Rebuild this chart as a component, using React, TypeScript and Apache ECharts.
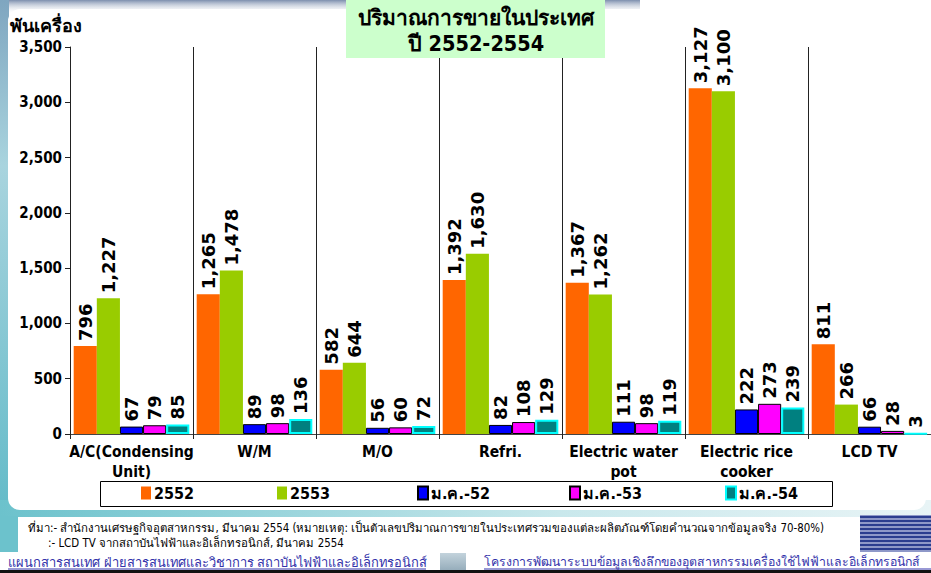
import React, { useEffect, useRef } from "react";
import * as echarts from "echarts";

const categories = [
  "A/C(Condensing\nUnit)",
  "W/M",
  "M/O",
  "Refri.",
  "Electric water\npot",
  "Electric rice\ncooker",
  "LCD TV",
];
const seriesNames = ["2552", "2553", "ม.ค.-52", "ม.ค.-53", "ม.ค.-54"];
const values2552 = [796, 1265, 582, 1392, 1367, 3127, 811];
const values2553 = [1227, 1478, 644, 1630, 1262, 3100, 266];
const valuesJan52 = [67, 89, 56, 82, 111, 222, 66];
const valuesJan53 = [79, 98, 60, 108, 98, 273, 28];
const valuesJan54 = [85, 136, 72, 129, 119, 239, 3];
const yTicks = { min: 0, max: 3500, interval: 500 };

const titleLines = ["ปริมาณการขายในประเทศ", "ปี 2552-2554"];
const yUnit = "พันเครื่อง";
const noteLines = [
  "ที่มา:- สำนักงานเศรษฐกิจอุตสาหกรรม, มีนาคม 2554 (หมายเหตุ: เป็นตัวเลขปริมาณการขายในประเทศรวมของแต่ละผลิตภัณฑ์โดยคำนวณจากข้อมูลจริง 70-80%)",
  ":- LCD TV จากสถาบันไฟฟ้าและอิเล็กทรอนิกส์, มีนาคม 2554",
];
const footerLeft = "แผนกสารสนเทศ ฝ่ายสารสนเทศและวิชาการ สถาบันไฟฟ้าและอิเล็กทรอนิกส์";
const footerRight = "โครงการพัฒนาระบบข้อมูลเชิงลึกของอุตสาหกรรมเครื่องใช้ไฟฟ้าและอิเล็กทรอนิกส์";

const THAI = "Tahoma, 'DejaVu Sans Condensed', 'DejaVu Sans', sans-serif";
const COND = "'DejaVu Sans Condensed', 'DejaVu Sans', sans-serif";
const VERD = "'DejaVu Sans', Verdana, sans-serif";

export default function App() {
  const ref = useRef<HTMLDivElement>(null);
  useEffect(() => {
    document.body.style.margin = "0";
    const chart = echarts.init(ref.current!, null, { renderer: "svg" });
    const fmt = (v: number) => Number(v).toLocaleString("en-US");
    const colors = ["#FF6600", "#99CC00", "#0000FF", "#FF00FF", "#008080"];
    const borders = [
      { borderWidth: 0 },
      { borderWidth: 0 },
      { borderColor: "#000", borderWidth: 1 },
      { borderColor: "#000", borderWidth: 1 },
      { borderColor: "#00FFFF", borderWidth: 2 },
    ];
    const data = [values2552, values2553, valuesJan52, valuesJan53, valuesJan54];
    const legendLefts = [141, 277, 417, 569, 725];

    const stripes: any[] = [];
    for (let i = 0; i < 9; i++) {
      stripes.push({
        type: "rect",
        shape: { x: 860, y: 516 + i * 4, width: 71, height: 2 },
        style: { fill: "#2b3d8f" },
        z: 1,
      });
    }

    chart.setOption({
      animation: false,
      backgroundColor: "#ffffff",
      grid: { left: 70, right: -7, top: 47, bottom: 139, containLabel: false },
      xAxis: {
        type: "category",
        data: categories,
        axisLine: { lineStyle: { color: "#444", width: 1 } },
        axisTick: { show: true, length: 5, lineStyle: { color: "#222" } },
        splitLine: { show: true, lineStyle: { color: "#222", width: 1 } },
        axisLabel: {
          interval: 0,
          color: "#000",
          fontWeight: "bold",
          fontSize: 15.5,
          fontFamily: COND,
          lineHeight: 20,
          margin: 8,
        },
      },
      yAxis: {
        type: "value",
        min: yTicks.min,
        max: yTicks.max,
        interval: yTicks.interval,
        axisLine: { show: true, lineStyle: { color: "#222" } },
        axisTick: { show: true, length: 5, lineStyle: { color: "#222" } },
        splitLine: { show: false },
        axisLabel: {
          color: "#000",
          fontWeight: "bold",
          fontSize: 15,
          fontFamily: COND,
          margin: 8,
          formatter: (v: number) => fmt(v),
        },
      },
      legend: seriesNames.map((n, i) => ({
        data: [n],
        left: legendLefts[i],
        top: 485,
        itemWidth: 10,
        itemHeight: 13,
        itemGap: 4,
        icon: "rect",
        padding: 0,
        textStyle: {
          color: "#000",
          fontWeight: "bold",
          fontSize: 16,
          fontFamily: THAI,
          padding: [0, 0, 0, -2],
        },
      })),
      series: seriesNames.map((n, i) => ({
        name: n,
        type: "bar",
        data: data[i],
        barGap: "0%",
        barCategoryGap: "6%",
        itemStyle: { color: colors[i], ...borders[i] },
        label: {
          show: true,
          position: "top",
          rotate: 90,
          align: "left",
          verticalAlign: "middle",
          distance: 5,
          color: "#000",
          fontWeight: "bold",
          fontSize: 18,
          fontFamily: VERD,
          formatter: (p: any) => fmt(p.value),
        },
      })),
      graphic: [
        {
          type: "rect",
          shape: { x: 0, y: 0, width: 640, height: 14 },
          style: {
            fill: new echarts.graphic.LinearGradient(0, 0, 0, 1, [
              { offset: 0, color: "#7d8fae" },
              { offset: 1, color: "rgba(255,255,255,0)" },
            ]),
          },
          z: 0,
        },
        {
          type: "rect",
          shape: { x: 0, y: 0, width: 9, height: 552 },
          style: {
            fill: new echarts.graphic.LinearGradient(0, 0, 0, 1, [
              { offset: 0, color: "#7fa6c0" },
              { offset: 0.3, color: "#a9d4de" },
              { offset: 1, color: "#5bb8c6" },
            ]),
          },
          z: 0,
        },
        {
          type: "rect",
          shape: { x: 0, y: 500, width: 931, height: 18 },
          style: {
            fill: new echarts.graphic.LinearGradient(0, 0, 1, 0, [
              { offset: 0, color: "#6cc2cc" },
              { offset: 0.6, color: "#c9e8ec" },
              { offset: 1, color: "#e8f4f6" },
            ]),
          },
          z: 0,
        },
        {
          type: "rect",
          shape: { x: 0, y: 516, width: 18, height: 36 },
          style: { fill: "#6cc2cc" },
          z: 0,
        },
        {
          type: "rect",
          shape: { x: 8, y: 9, width: 918, height: 501, r: 12 },
          style: { fill: "#ffffff" },
          z: 0,
        },
        {
          type: "rect",
          shape: { x: 18, y: 517, width: 842, height: 35 },
          style: { fill: "#ffffff" },
          z: 0,
        },
        {
          type: "rect",
          shape: { x: 860, y: 515, width: 71, height: 37 },
          style: { fill: "#8e98c8" },
          z: 0,
        },
        ...stripes,
        {
          type: "rect",
          shape: { x: 346, y: 0, width: 259, height: 58 },
          style: { fill: "#CCFFCC" },
          z: 5,
        },
        {
          type: "text",
          x: 476,
          y: 18,
          style: {
            text: titleLines[0],
            fill: "#000",
            font: `bold 21px ${THAI}`,
            align: "center",
            verticalAlign: "middle",
          },
          z: 6,
        },
        {
          type: "text",
          x: 476,
          y: 43,
          style: {
            text: titleLines[1],
            fill: "#000",
            font: `bold 21.5px ${THAI}`,
            align: "center",
            verticalAlign: "middle",
          },
          z: 6,
        },
        {
          type: "text",
          x: 10,
          y: 25,
          style: {
            text: yUnit,
            fill: "#000",
            font: `bold 18px ${THAI}`,
            align: "left",
            verticalAlign: "middle",
          },
          z: 6,
        },
        {
          type: "rect",
          shape: { x: 100.5, y: 481.5, width: 732, height: 25 },
          style: { fill: "#ffffff", stroke: "#000", lineWidth: 1 },
          z: 1,
        },
        {
          type: "text",
          x: 28,
          y: 528,
          style: {
            text: noteLines[0],
            fill: "#000",
            font: `11.4px ${THAI}`,
            align: "left",
            verticalAlign: "middle",
          },
          z: 6,
        },
        {
          type: "text",
          x: 48,
          y: 543,
          style: {
            text: noteLines[1],
            fill: "#000",
            font: `11.4px ${THAI}`,
            align: "left",
            verticalAlign: "middle",
          },
          z: 6,
        },
        {
          type: "text",
          x: 8,
          y: 562,
          style: {
            text: footerLeft,
            fill: "#3333aa",
            font: `12.9px ${THAI}`,
            align: "left",
            verticalAlign: "middle",
          },
          z: 6,
        },
        {
          type: "line",
          shape: { x1: 8, y1: 569, x2: 426, y2: 569 },
          style: { stroke: "#3333aa", lineWidth: 1 },
          z: 6,
        },
        {
          type: "rect",
          shape: { x: 440, y: 553, width: 26, height: 20 },
          style: {
            fill: new echarts.graphic.LinearGradient(0, 0, 0, 1, [
              { offset: 0, color: "#c3d3dc" },
              { offset: 1, color: "#8fa7b6" },
            ]),
          },
          z: 5,
        },
        {
          type: "text",
          x: 484,
          y: 562,
          style: {
            text: footerRight,
            fill: "#3333aa",
            font: `12.3px ${THAI}`,
            align: "left",
            verticalAlign: "middle",
          },
          z: 6,
        },
        {
          type: "line",
          shape: { x1: 484, y1: 569, x2: 931, y2: 569 },
          style: { stroke: "#3333aa", lineWidth: 1 },
          z: 6,
        },
        {
          type: "rect",
          shape: { x: 0, y: 570, width: 931, height: 3 },
          style: { fill: "#111" },
          z: 6,
        },
      ],
    });
    return () => chart.dispose();
  }, []);
  return (
    <div
      ref={ref}
      style={{ position: "fixed", left: 0, top: 0, width: 931, height: 573 }}
    />
  );
}
